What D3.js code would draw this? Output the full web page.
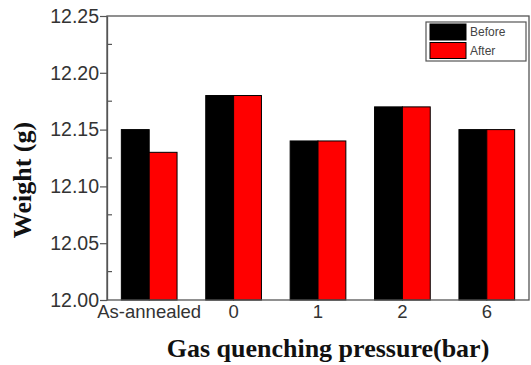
<!DOCTYPE html>
<html>
<head>
<meta charset="utf-8">
<script src="https://cdn.jsdelivr.net/npm/d3@7"></script>
<style>
  body { margin: 0; background: #fff; }
  svg { display: block; }
</style>
</head>
<body>
<svg id="chart" width="531" height="365"></svg>
<script>
// data
const categories = ['As-annealed', '0', '1', '2', '6'];
const seriesNames = ['Before', 'After'];
const before = [12.15, 12.18, 12.14, 12.17, 12.15];
const after = [12.13, 12.18, 12.14, 12.17, 12.15];
const yTicks = [12.00, 12.05, 12.10, 12.15, 12.20, 12.25];
const colors = ['#000000', '#ff0000'];

const svg = d3.select('#chart');
const margin = {top: 16, right: 2, bottom: 65, left: 107};
const width = 531 - margin.left - margin.right,
      height = 365 - margin.top - margin.bottom;

const g = svg.append('g').attr('transform', `translate(${margin.left},${margin.top})`);

const x = d3.scaleBand().domain(categories).range([0, width])
    .paddingInner(0.34).paddingOuter(0.17);
const xs = d3.scaleBand().domain(seriesNames).range([0, x.bandwidth()]);
const y = d3.scaleLinear().domain([12.0, 12.25]).range([height, 0]);

// bars
const rows = categories.map((c, i) => ({cat: c, vals: [before[i], after[i]]}));
const grp = g.selectAll('.grp').data(rows).enter().append('g')
    .attr('class', 'grp')
    .attr('transform', d => `translate(${x(d.cat)},0)`);
grp.selectAll('rect').data(d => d.vals.map((v, j) => ({s: seriesNames[j], v: v, j: j})))
  .enter().append('rect')
    .attr('x', d => xs(d.s))
    .attr('y', d => y(d.v))
    .attr('width', xs.bandwidth())
    .attr('height', d => height - y(d.v))
    .attr('fill', d => colors[d.j])
    .attr('stroke', '#000')
    .attr('stroke-width', 1);

// frame
g.append('rect').attr('width', width).attr('height', height)
    .attr('fill', 'none').attr('stroke', '#555').attr('stroke-width', 1.3);

// y axis, major ticks outward, minor inward
const yAxis = g.append('g').call(d3.axisLeft(y).tickValues(yTicks).tickFormat(d3.format('.2f')).tickSize(7).tickSizeOuter(0));
yAxis.select('.domain').attr('stroke', '#555').attr('stroke-width', 1.3);
yAxis.selectAll('.tick line').attr('stroke', '#555').attr('stroke-width', 1.2);
yAxis.selectAll('.tick text')
    .attr('x', -8)
    .style('font-family', 'Arial, "Liberation Sans", sans-serif')
    .style('font-size', '19.5px').attr('fill', '#333');
const minor = d3.range(0, 5).map(i => 12.025 + i * 0.05);
g.selectAll('.minor').data(minor).enter().append('line')
    .attr('x1', 0).attr('x2', 5)
    .attr('y1', d => y(d)).attr('y2', d => y(d))
    .attr('stroke', '#555').attr('stroke-width', 1.2);

// x axis labels
const xAxis = g.append('g').attr('transform', `translate(0,${height})`)
    .call(d3.axisBottom(x).tickSize(0).tickPadding(5));
xAxis.select('.domain').remove();
xAxis.selectAll('.tick text')
    .style('font-family', 'Arial, "Liberation Sans", sans-serif')
    .style('font-size', '18.5px').attr('fill', '#333');

// titles
svg.append('text')
    .attr('x', 328).attr('y', 357)
    .attr('text-anchor', 'middle')
    .style('font-family', '"Liberation Serif", "Times New Roman", serif')
    .style('font-weight', 'bold').style('font-size', '26px').attr('fill', '#111')
    .text('Gas quenching pressure(bar)');
svg.append('text')
    .attr('transform', 'translate(31,180) rotate(-90)')
    .attr('text-anchor', 'middle')
    .style('font-family', '"Liberation Serif", "Times New Roman", serif')
    .style('font-weight', 'bold').style('font-size', '26px').attr('fill', '#111')
    .text('Weight (g)');

// legend
const leg = svg.append('g').attr('transform', 'translate(426,22)');
leg.append('rect').attr('width', 100).attr('height', 39)
    .attr('fill', '#fff').attr('stroke', '#555').attr('stroke-width', 1.2);
seriesNames.forEach((s, i) => {
  leg.append('rect').attr('x', 4).attr('y', 2 + i * 18.5).attr('width', 36).attr('height', 16)
      .attr('fill', colors[i]).attr('stroke', '#000');
  leg.append('text').attr('x', 44).attr('y', 14 + i * 18.5)
      .style('font-family', 'Arial, "Liberation Sans", sans-serif')
      .style('font-size', '12px').attr('fill', '#444')
      .text(s);
});
</script>
</body>
</html>
